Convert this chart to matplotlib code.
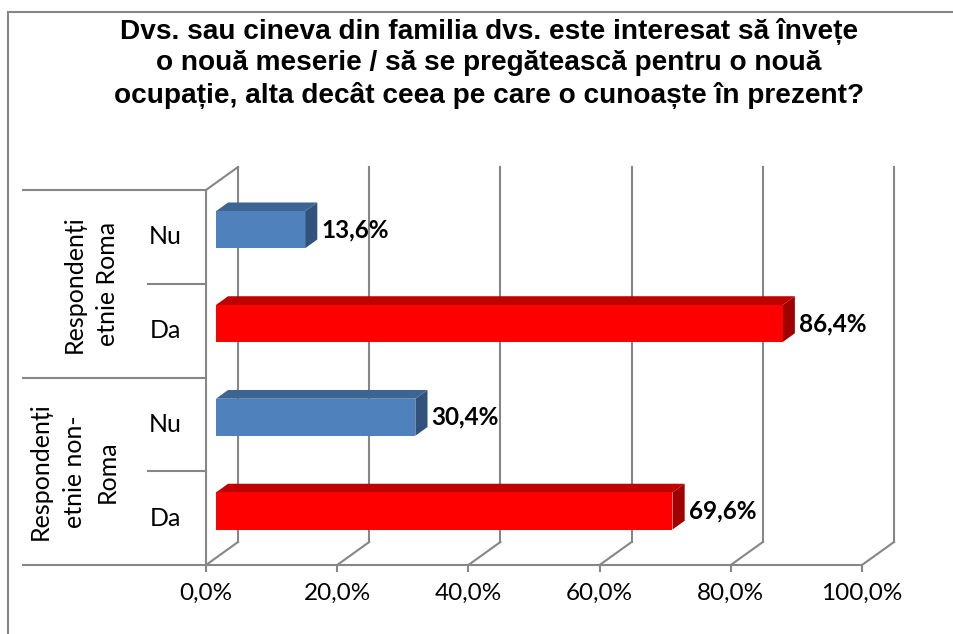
import matplotlib
matplotlib.use("Agg")
import matplotlib.pyplot as plt
import matplotlib.transforms as mtransforms
from matplotlib.patches import Polygon
from matplotlib.lines import Line2D
import numpy as np

# ---------------- data ----------------
title = ("Dvs. sau cineva din familia dvs. este interesat să învețe\n"
         "o nouă meserie / să se pregătească pentru o nouă\n"
         "ocupație, alta decât ceea pe care o cunoaște în prezent?")
groups = ["Respondenți\netnie Roma", "Respondenți\netnie non-\nRoma"]
answers = ["Nu", "Da"]
roma_values = [13.6, 86.4]
non_roma_values = [30.4, 69.6]
xticks = [0, 20, 40, 60, 80, 100]
xtick_labels = ["0,0%", "20,0%", "40,0%", "60,0%", "80,0%", "100,0%"]

# ---------------- style ----------------
W, H, DPI = 954, 634, 100
GRID = "#868686"
LW = 1.5
FONT = "Lato"
FS = 17.5
palette = {
    "Nu": ("#4F81BD", "#3D6593", "#30527C"),
    "Da": ("#FF0000", "#C00000", "#A00000"),
}
DX, DY = 32, 23          # depth of the 3D box, pixels
BAR_F, BAR_B = 0.31, 0.69  # bar front/back depth fractions
BAR_H = 0.395

fig = plt.figure(figsize=(W / DPI, H / DPI), dpi=DPI)
ax = fig.add_axes([206 / W, 1 - 565 / H, 656 / W, 375 / H])
ax.set_xlim(0, 100)
ax.set_ylim(4, 0)
for s in ["top", "right"]:
    ax.spines[s].set_visible(False)
for s in ["left", "bottom"]:
    ax.spines[s].set_color(GRID)
    ax.spines[s].set_linewidth(LW)
ax.set_yticks([])
ax.set_xticks(xticks, xtick_labels)
ax.tick_params(axis="x", length=5, width=LW, color=GRID, pad=8,
               labelsize=FS)
for lab in ax.get_xticklabels():
    lab.set_family(FONT)
ax.patch.set_alpha(0)


def shift(x, y, d):
    px = ax.transData.transform((x, y)) + np.array([d * DX, d * DY])
    return ax.transData.inverted().transform(px)


# back wall gridlines and floor diagonals
for t in xticks:
    a = shift(t, 0, 1)
    b = shift(t, 4, 1)
    ax.add_line(Line2D([a[0], b[0]], [a[1], b[1]], color=GRID, lw=LW,
                       clip_on=False, zorder=1))
    ax.add_line(Line2D([t, b[0]], [4, b[1]], color=GRID, lw=LW,
                       clip_on=False, zorder=1))
# left wall top edge
a = shift(0, 0, 1)
ax.add_line(Line2D([0, a[0]], [0, a[1]], color=GRID, lw=LW,
                   clip_on=False, zorder=1))

# bars
values = roma_values + non_roma_values
for i, v in enumerate(values):
    ans = answers[i % 2]
    fc, tc, sc = palette[ans]
    c = i + 0.5
    y0, y1 = c - BAR_H / 2, c + BAR_H / 2
    front = [shift(0, y0, BAR_F), shift(v, y0, BAR_F),
             shift(v, y1, BAR_F), shift(0, y1, BAR_F)]
    top = [shift(0, y0, BAR_F), shift(v, y0, BAR_F),
           shift(v, y0, BAR_B), shift(0, y0, BAR_B)]
    side = [shift(v, y0, BAR_F), shift(v, y0, BAR_B),
            shift(v, y1, BAR_B), shift(v, y1, BAR_F)]
    for poly, col in [(side, sc), (top, tc), (front, fc)]:
        ax.add_patch(Polygon(poly, closed=True, facecolor=col,
                             edgecolor="none", clip_on=False, zorder=3))
    ax.annotate(f"{v:.1f}%".replace(".", ","), xy=(v, c), xytext=(26, 7),
                textcoords="offset pixels", ha="left", va="center",
                fontsize=FS, fontweight="bold", family=FONT, zorder=4)

# category axis (left side)
yx = ax.get_yaxis_transform()
for yy in [0, 2, 4]:
    ax.add_line(Line2D([(23 - 206) / 656, 0], [yy, yy], transform=yx,
                       color=GRID, lw=LW, clip_on=False))
for yy in [1, 3]:
    ax.add_line(Line2D([(148 - 206) / 656, 0], [yy, yy], transform=yx,
                       color=GRID, lw=LW, clip_on=False))
for i in range(4):
    ax.text((165 - 206) / 656, i + 0.5, answers[i % 2], transform=yx,
            ha="center", va="center", fontsize=FS + 0.5, family=FONT)
for g, name in enumerate(groups):
    ax.text((119 - 206) / 656, 2 * g + 1, name, transform=yx, rotation=90,
            ha="right", va="center", multialignment="center",
            fontsize=FS + 0.5, family=FONT, linespacing=1.55)

# chart border
fig.add_artist(Line2D([8 / W, 1], [1 - 12 / H, 1 - 12 / H],
                      transform=fig.transFigure, color=GRID, lw=LW))
fig.add_artist(Line2D([8 / W, 8 / W], [1 - 12 / H, 0],
                      transform=fig.transFigure, color=GRID, lw=LW))

fig.text(489 / W, 1 - 18 / H, title, ha="center", va="top", fontsize=20.2,
         fontweight="bold", family="Liberation Sans", linespacing=1.26)

fig.savefig("out.png", dpi=DPI)
